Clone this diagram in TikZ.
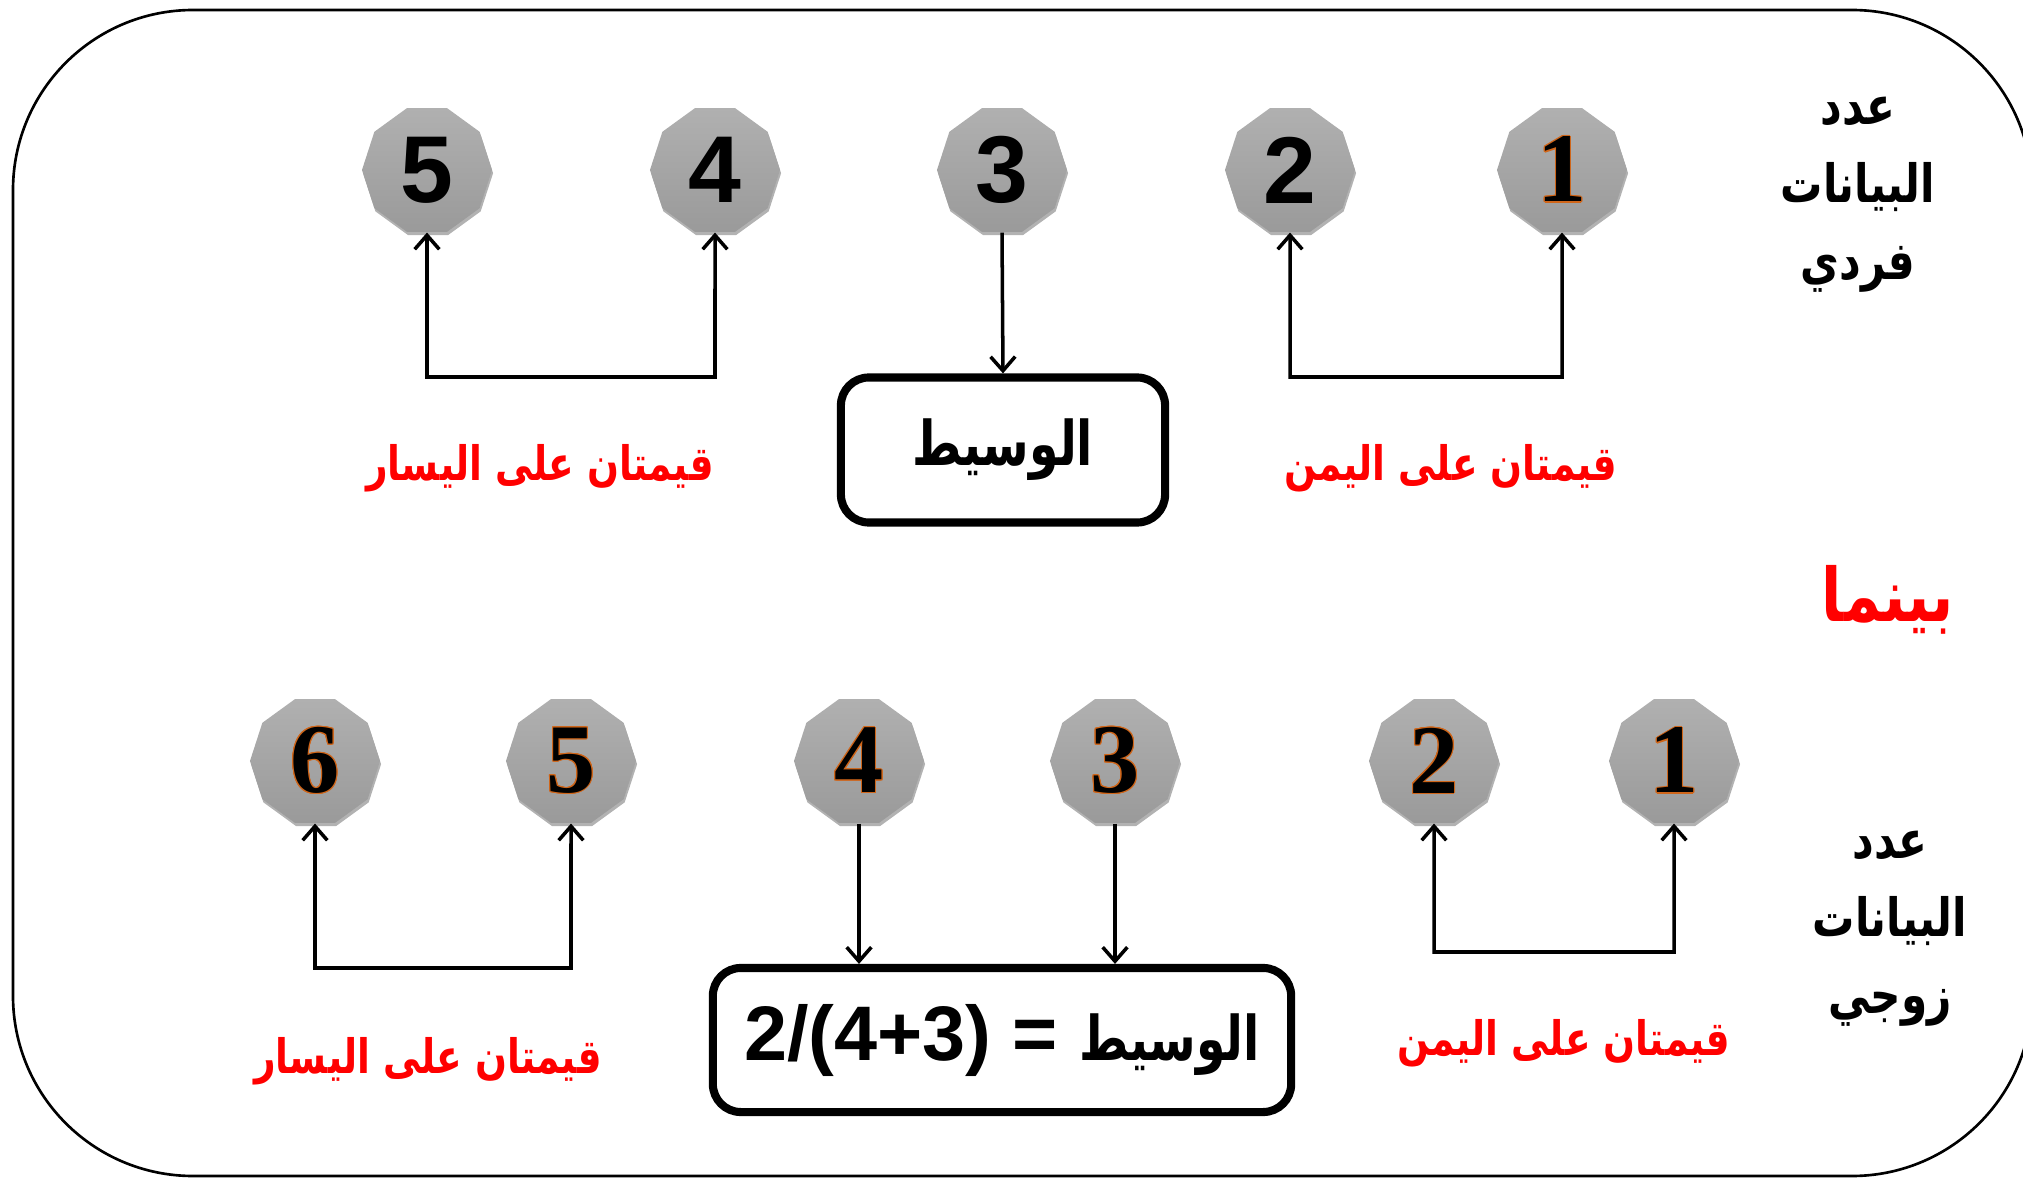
\documentclass[tikz,border=0pt]{standalone}
\usepackage{graphicx}
\usepackage{fontspec}
\setmainfont{Liberation Sans}
\newfontfamily\arabicfont[Script=Arabic]{DejaVu Sans}
\newfontfamily\numserif{Liberation Serif}
\TeXXeTstate=1
\usepackage[copies]{contour}
\contourlength{0.3pt}
\usetikzlibrary{shapes.geometric,arrows.meta,shadows}
\definecolor{decatop}{HTML}{B0B0B0}
\definecolor{decabot}{HTML}{9A9A9A}
\definecolor{glow}{HTML}{D0661A}
\newcommand{\arx}[2][0.8]{\scalebox{#1}[1]{\beginR #2\endR}}
\tikzset{
  deca/.style={regular polygon, regular polygon sides=10, minimum size=1.30cm, inner sep=0pt,
    top color=decatop, bottom color=decabot, draw=none,
    drop shadow={shadow xshift=0.3pt, shadow yshift=-0.9pt, opacity=0.3, fill=black}},
  plainnum/.style={font=\fontsize{27}{27}\selectfont\bfseries},
  glossnum/.style={font=\fontsize{28}{28}\selectfont\numserif\bfseries},
  conn/.style={line width=1pt, {Straight Barb[length=4pt,width=7pt]}-{Straight Barb[length=4pt,width=7pt]}},
  down/.style={line width=1pt, -{Straight Barb[length=4pt,width=7pt]}},
  medbox/.style={draw, line width=2.3pt, rounded corners=0.28cm, inner sep=0pt},
  medtext/.style={font=\fontsize{17.5}{17.5}\selectfont\arabicfont\bfseries},
  redlab/.style={text=red, font=\fontsize{13.5}{13.5}\selectfont\arabicfont\bfseries},
  sidelab/.style={align=center, font=\fontsize{15}{22}\selectfont\arabicfont\bfseries},
}
\begin{document}
\begin{tikzpicture}[x=0.01cm, y=-0.01cm]
\useasboundingbox (0,0) rectangle (2023,1182);
\begin{scope}
\clip (0,0) rectangle (2023,1182);
\draw[line width=0.75pt, rounded corners=1.8cm] (13,10) rectangle (2032,1176);
\end{scope}

% ---- top row (odd) ----
\node[deca, plainnum] (t5) at (427,170) {5};
\node[deca, plainnum] (t4) at (715,170) {4};
\node[deca, plainnum] (t3) at (1002,170) {3};
\node[deca, plainnum] (t2) at (1290,170) {2};
\node[deca, glossnum] (t1) at (1562,170) {\contour{glow}{1}};

\node[medbox, medtext, minimum width=3.24cm, minimum height=1.45cm] (m1) at (1003,450)
  {\arx[0.77]{الوسيط}};

\coordinate (j5) at (427,377);
\coordinate (j4) at (715,377);
\coordinate (j2) at (1290,377);
\coordinate (j1) at (1562,377);
\draw[conn] (t5.south) -- (j5) -- (j4) -- (t4.south);
\draw[conn] (t2.south) -- (j2) -- (j1) -- (t1.south);
\draw[down] (t3.south) -- (m1.north);

\node[redlab] (lleft1) at (540,468) {\arx[0.79]{قيمتان على اليسار}};
\node[redlab] (lright1) at (1451,468) {\arx[0.79]{قيمتان على اليمن}};

\node[sidelab] (side1) at (1858,195) {\arx{عدد}\\\arx{البيانات}\\\arx{فردي}};

\node[text=red, font=\fontsize{21}{21}\selectfont\arabicfont\bfseries] (while) at (1888,600) {\arx{بينما}};

% ---- bottom row (even) ----
\node[deca, glossnum] (b6) at (315,761) {\contour{glow}{6}};
\node[deca, glossnum] (b5) at (571,761) {\contour{glow}{5}};
\node[deca, glossnum] (b4) at (859,761) {\contour{glow}{4}};
\node[deca, glossnum] (b3) at (1115,761) {\contour{glow}{3}};
\node[deca, glossnum] (b2) at (1434,761) {\contour{glow}{2}};
\node[deca, glossnum] (b1) at (1674,761) {\contour{glow}{1}};

\node[medbox, minimum width=5.78cm, minimum height=1.44cm] (m2) at (1002,1040)
  {\fontsize{22}{22}\selectfont\bfseries 2/(4+3) = {\fontsize{17.5}{17.5}\selectfont\arabicfont\bfseries\arx[0.77]{الوسيط}}};

\coordinate (k6) at (315,968);
\coordinate (k5) at (571,968);
\coordinate (k2) at (1434,952);
\coordinate (k1) at (1674,952);
\draw[conn] (b6.south) -- (k6) -- (k5) -- (b5.south);
\draw[conn] (b2.south) -- (k2) -- (k1) -- (b1.south);
\draw[down] (b4.south) -- (b4.south |- m2.north);
\draw[down] (b3.south) -- (b3.south |- m2.north);

\node[redlab] (lleft2) at (428,1061) {\arx[0.79]{قيمتان على اليسار}};
\node[redlab] (lright2) at (1564,1043) {\arx[0.79]{قيمتان على اليمن}};

\node[sidelab] (side2) at (1890,929) {\arx{عدد}\\\arx{البيانات}\\\arx{زوجي}};
\end{tikzpicture}
\end{document}
